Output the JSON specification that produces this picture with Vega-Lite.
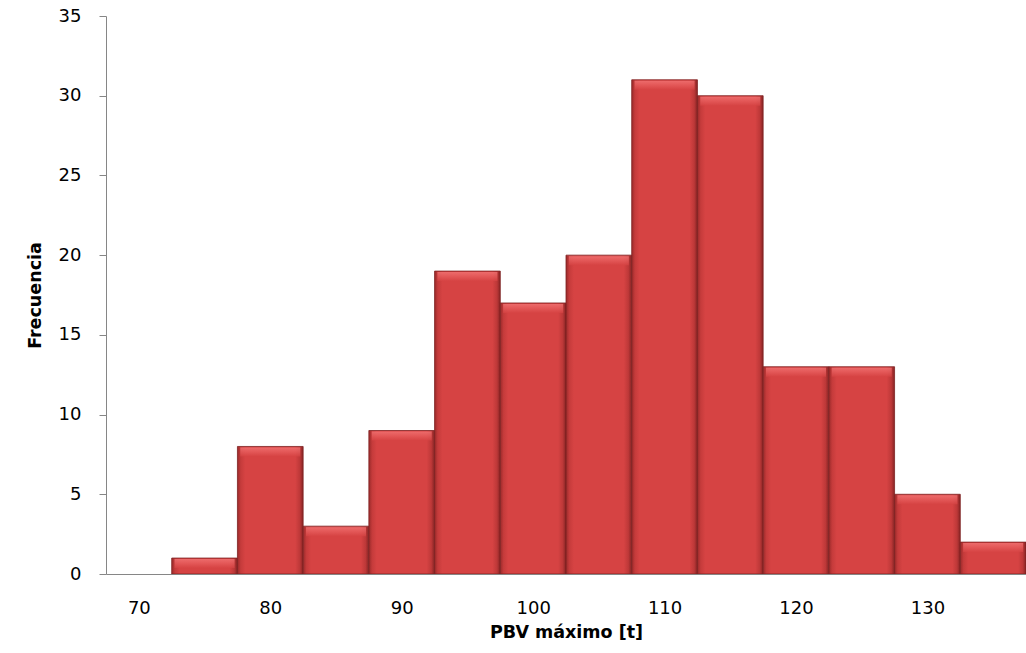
{
  "$schema": "https://vega.github.io/schema/vega-lite/v6.json",
  "width": 920,
  "height": 558,
  "autosize": "none",
  "padding": {"left": 106, "top": 16, "right": 0, "bottom": 79},
  "background": "white",
  "config": {
    "view": {"stroke": null},
    "font": "DejaVu Sans",
    "axis": {"labelFont": "DejaVu Sans", "titleFont": "DejaVu Sans", "labelColor": "#000000", "titleColor": "#000000", "domainColor": "#868686", "tickColor": "#868686", "grid": false}
  },
  "data": {
    "values": [
      {"bin_start": 72.5, "bin_end": 77.5, "count": 1},
      {"bin_start": 77.5, "bin_end": 82.5, "count": 8},
      {"bin_start": 82.5, "bin_end": 87.5, "count": 3},
      {"bin_start": 87.5, "bin_end": 92.5, "count": 9},
      {"bin_start": 92.5, "bin_end": 97.5, "count": 19},
      {"bin_start": 97.5, "bin_end": 102.5, "count": 17},
      {"bin_start": 102.5, "bin_end": 107.5, "count": 20},
      {"bin_start": 107.5, "bin_end": 112.5, "count": 31},
      {"bin_start": 112.5, "bin_end": 117.5, "count": 30},
      {"bin_start": 117.5, "bin_end": 122.5, "count": 13},
      {"bin_start": 122.5, "bin_end": 127.5, "count": 13},
      {"bin_start": 127.5, "bin_end": 132.5, "count": 5},
      {"bin_start": 132.5, "bin_end": 137.5, "count": 2}
    ]
  },
  "layer": [
    {
      "mark": {
        "type": "bar",
        "clip": true,
        "stroke": "#7e2222",
        "strokeWidth": 1,
        "strokeOpacity": 0.8,
        "fill": {
          "gradient": "linear", "x1": 0, "y1": 0, "x2": 1, "y2": 0,
          "stops": [
            {"offset": 0, "color": "#9a2a2a"},
            {"offset": 0.05, "color": "#c53b3b"},
            {"offset": 0.12, "color": "#d64343"},
            {"offset": 0.88, "color": "#d64343"},
            {"offset": 0.95, "color": "#bd3838"},
            {"offset": 1, "color": "#862424"}
          ]
        }
      },
      "encoding": {
        "x": {
          "field": "bin_start", "type": "quantitative",
          "scale": {"domain": [67.5, 137.5], "nice": false, "zero": false},
          "axis": {
            "values": [70, 80, 90, 100, 110, 120, 130],
            "ticks": false, "labelFontSize": 18, "labelPadding": 25,
            "title": "PBV máximo [t]", "titleFontSize": 17.5, "titleFontWeight": "bold", "titlePadding": 6
          }
        },
        "x2": {"field": "bin_end"},
        "y": {
          "field": "count", "type": "quantitative",
          "scale": {"domain": [0, 35], "nice": false},
          "axis": {
            "values": [0, 5, 10, 15, 20, 25, 30, 35],
            "tickSize": 7, "labelFontSize": 18, "labelPadding": 18,
            "title": "Frecuencia", "titleFontSize": 17.5, "titleFontWeight": "bold", "titlePadding": 14
          }
        },
        "y2": {"datum": 0}
      }
    },
    {
      "mark": {
        "type": "tick",
        "orient": "horizontal",
        "clip": true,
        "size": 60,
        "thickness": 9,
        "xOffset": 32.85,
        "yOffset": 5.5,
        "fill": {
          "gradient": "linear", "x1": 0, "y1": 0, "x2": 0, "y2": 1,
          "stops": [
            {"offset": 0, "color": "#f67c7c"},
            {"offset": 0.45, "color": "#ea6262"},
            {"offset": 1, "color": "#d64343"}
          ]
        }
      },
      "encoding": {
        "x": {"field": "bin_start", "type": "quantitative"},
        "y": {"field": "count", "type": "quantitative"}
      }
    }
  ]
}
